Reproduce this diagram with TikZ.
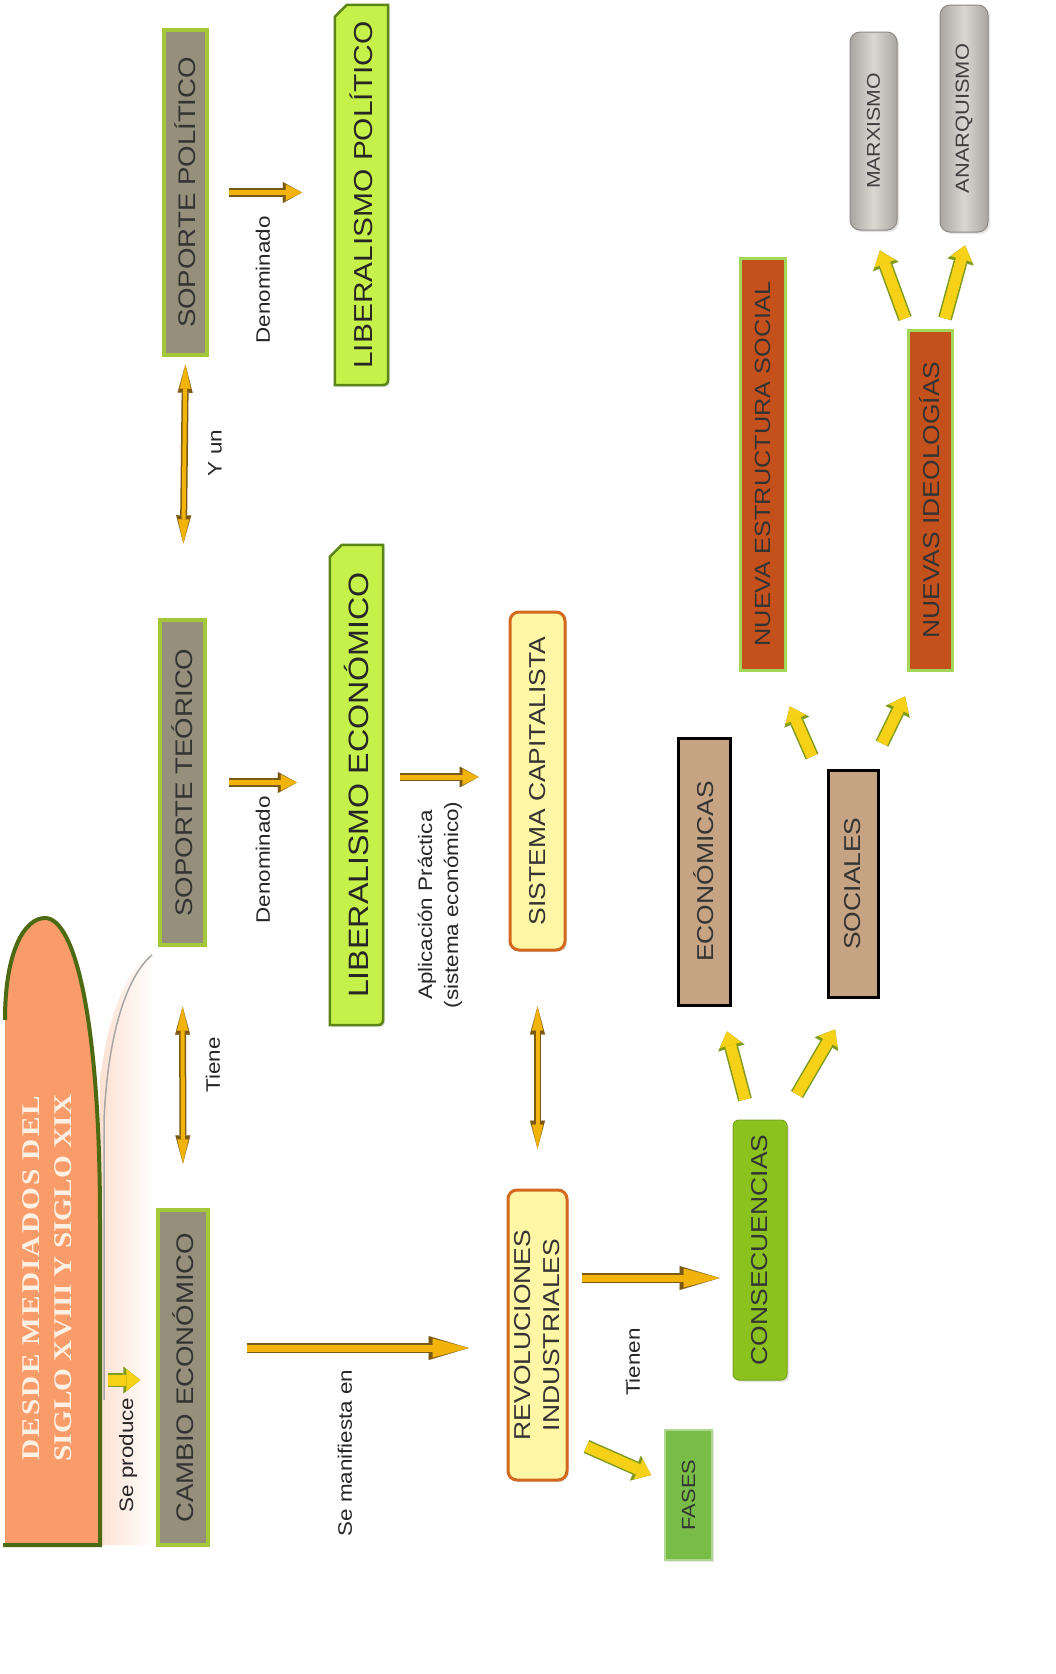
\documentclass[tikz,border=0pt]{standalone}
\usepackage{fontspec}
\setmainfont{Liberation Sans}[FakeStretch=1.15]
\newfontfamily\titlefont{Liberation Serif}[FakeStretch=1.15]
\usetikzlibrary{arrows.meta,shadows}
\definecolor{gold}{HTML}{F2B40A}
\definecolor{goldedge}{HTML}{7A5A12}
\definecolor{yel}{HTML}{F7D117}
\definecolor{yeledge}{HTML}{7E9B1C}
\definecolor{olivefill}{HTML}{958F7B}
\definecolor{limeborder}{HTML}{A5C83A}
\definecolor{libfill}{HTML}{C6F14B}
\definecolor{libedge}{HTML}{5B8419}
\definecolor{creamfill}{HTML}{FFF6A6}
\definecolor{creamedge}{HTML}{D2691F}
\definecolor{consfill}{HTML}{8CC21E}
\definecolor{fasfill}{HTML}{79BD48}
\definecolor{tanfill}{HTML}{C6A483}
\definecolor{rustfill}{HTML}{C4501B}
\definecolor{rustedge}{HTML}{A3D65A}
\definecolor{greyfill}{HTML}{DAD6D2}
\definecolor{greyedge}{HTML}{8E8984}
\definecolor{txt}{HTML}{333333}
\definecolor{titleorange}{HTML}{F99C69}
\definecolor{titleedge}{HTML}{4C6A12}
\definecolor{titletext}{HTML}{FFF0E4}
\begin{document}
\begin{tikzpicture}[x=1pt,y=-1pt,
  vbox/.style={rotate=90, inner sep=0pt, align=center, text=txt},
  softshadow/.style={drop shadow={opacity=0.22, shadow xshift=2pt, shadow yshift=-2pt}},
  olivebox/.style={vbox, fill=olivefill, draw=limeborder, line width=3.5pt, softshadow, font=\fontsize{24}{28}\selectfont},
  libtext/.style={vbox, text=black!85},
  libshape/.style={fill=libfill, draw=libedge, line width=2.5pt, softshadow},
  creambox/.style={vbox, fill=creamfill, draw=creamedge, line width=3pt, rounded corners=9pt, softshadow, font=\fontsize{23}{29}\selectfont},
  consbox/.style={vbox, fill=consfill, draw=consfill!85!black, line width=1pt, rounded corners=6pt, softshadow, font=\fontsize{23}{28}\selectfont},
  fasbox/.style={vbox, fill=fasfill, draw=fasfill!60!white, line width=2pt, softshadow, font=\fontsize{19}{23}\selectfont},
  tanbox/.style={vbox, fill=tanfill, draw=black, line width=3pt, softshadow, font=\fontsize{23}{28}\selectfont},
  rustbox/.style={vbox, fill=rustfill, draw=rustedge, line width=3pt, text=black!80, font=\fontsize{22}{26}\selectfont},
  greybox/.style={vbox, left color=greyedge!75, right color=greyedge!75, middle color=greyfill, draw=greyedge, line width=1pt, rounded corners=10pt, softshadow, text=black!75, font=\fontsize{18.5}{22}\selectfont},
  vlabel/.style={vbox, text=black!85, font=\fontsize{19.5}{26}\selectfont},
  gshort/.style={draw=gold, line width=5pt, -{Triangle[length=16pt,width=16pt,line width=0.1pt]},
    preaction={draw=goldedge, line width=8.5pt, -{Triangle[length=19pt,width=21pt,line width=0.1pt]}}},
  glong/.style={draw=gold, line width=7pt, -{Triangle[length=36pt,width=19pt,line width=0.1pt]},
    preaction={draw=goldedge, line width=10.5pt, -{Triangle[length=40pt,width=24pt,line width=0.1pt]}}},
  gdouble/.style={draw=gold, line width=4pt, {Triangle[length=24pt,width=11pt,line width=0.1pt]}-{Triangle[length=24pt,width=11pt,line width=0.1pt]},
    preaction={draw=goldedge, line width=7pt, {Triangle[length=28pt,width=15pt,line width=0.1pt]}-{Triangle[length=28pt,width=15pt,line width=0.1pt]}}},
  yarrow/.style={draw=yel, line width=11pt, -{Triangle[length=14pt,width=22pt,line width=0.1pt]},
    preaction={draw=yeledge, line width=14pt, -{Triangle[length=17pt,width=27pt,line width=0.1pt]}}}
]
\useasboundingbox (0,0) rectangle (1056,1674);
\fill[white] (0,0) rectangle (1056,1674);

% reflection beside the title
\shade[left color=titleorange!30, right color=white] (100,1545) -- (100,1080) .. controls (110,1000) and (132,965) .. (155,950) -- (155,1545) -- cycle;
\draw[black!35, line width=1.5pt] (104,1400) -- (104,1120) .. controls (108,1030) and (128,975) .. (152,955);

% title shape
\fill[titleorange] (5,1545) -- (5,1020) .. controls (5,950) and (25,918) .. (45,918) .. controls (75,918) and (100,1020) .. (100,1220) -- (100,1545) -- cycle;
\draw[titleedge, line width=4pt] (5,1020) .. controls (5,950) and (25,918) .. (45,918) .. controls (75,918) and (100,1020) .. (100,1220) -- (100,1545) -- (3,1545);
\node[vbox, text=titletext, font=\titlefont\bfseries\fontsize{25.5}{32}\selectfont] (tt) at (47,1278) {{\addfontfeature{LetterSpace=8}DESDE MEDIADOS DEL}\\SIGLO XVIII Y SIGLO XIX};
\coordinate (tedge) at (100,1380);

% olive boxes
\node[olivebox, minimum width=335pt, minimum height=50pt] (ce) at (183,1377.5) {CAMBIO ECONÓMICO};
\node[olivebox, minimum width=325pt, minimum height=45pt] (st) at (182.5,782.5) {SOPORTE TEÓRICO};
\node[olivebox, minimum width=325pt, minimum height=43pt] (sp) at (185.5,192.5) {SOPORTE POLÍTICO};

% liberalism boxes
\node[vbox, minimum width=380pt, minimum height=53pt] (lp) at (361.5,195) {};
\path[libshape] ([yshift=-12pt]lp.north east) -- ([xshift=12pt]lp.north east) -- (lp.south east) -- ([yshift=12pt]lp.south west) .. controls (lp.south west) .. ([xshift=-12pt]lp.south west) -- (lp.north west) -- cycle;
\node[libtext, font=\fontsize{26}{30}\selectfont] at (lp) {LIBERALISMO POLÍTICO};
\node[vbox, minimum width=480pt, minimum height=53pt] (le) at (356.5,785) {};
\path[libshape] ([yshift=-12pt]le.north east) -- ([xshift=12pt]le.north east) -- (le.south east) -- ([yshift=12pt]le.south west) .. controls (le.south west) .. ([xshift=-12pt]le.south west) -- (le.north west) -- cycle;
\node[libtext, font=\fontsize{28}{32}\selectfont] at (le) {LIBERALISMO ECONÓMICO};

% cream boxes
\node[creambox, minimum width=338pt, minimum height=55pt] (sc) at (537.5,781) {SISTEMA CAPITALISTA};
\node[creambox, minimum width=290pt, minimum height=59pt] (ri) at (537.5,1335) {REVOLUCIONES\\INDUSTRIALES};

% consequences
\node[fasbox, minimum width=130pt, minimum height=47pt] (fa) at (688.5,1495) {FASES};
\node[consbox, minimum width=260pt, minimum height=54pt] (co) at (760,1250) {CONSECUENCIAS};
\node[tanbox, minimum width=267pt, minimum height=52pt] (ec) at (704,871.5) {ECONÓMICAS};
\node[tanbox, minimum width=227pt, minimum height=50pt] (so) at (853,883.5) {SOCIALES};
\node[rustbox, minimum width=412pt, minimum height=45pt] (ne) at (762.5,464) {NUEVA ESTRUCTURA SOCIAL};
\node[rustbox, minimum width=340pt, minimum height=44pt, font=\fontsize{23}{27}\selectfont] (ni) at (930,500) {NUEVAS IDEOLOGÍAS};
\node[greybox, minimum width=198pt, minimum height=47pt] (ma) at (873.5,131) {MARXISMO};
\node[greybox, minimum width=227pt, minimum height=48pt, font=\fontsize{19}{22}\selectfont] (an) at (964,118.5) {ANARQUISMO};

% labels
\node[vlabel] (l1) at (128,1455) {Se produce};
\node[vlabel] (l2) at (213,1065) {Tiene};
\node[vlabel] (l3) at (215,453) {Y un};
\node[vlabel] (l4) at (263,860) {Denominado};
\node[vlabel] (l5) at (263,280) {Denominado};
\node[vlabel] (l6) at (440,905) {Aplicación Práctica\\(sistema económico)};
\node[vlabel] (l7) at (345,1453) {Se manifiesta en};
\node[vlabel] (l8) at (633,1362) {Tienen};

% connectors
\draw[yarrow, shorten <=8pt, shorten >=16pt] (tedge) -- ([yshift=-2.5pt]ce.north);
\draw[gdouble, shorten <=45pt, shorten >=60pt] (ce.east) -- (st.west);
\draw[gdouble, shorten <=75pt, shorten >=8pt] (st.east) -- (sp.west);
\draw[gshort, shorten <=22pt, shorten >=33pt] (st.south) -- (st.south -| le.north);
\draw[gshort, shorten <=20pt, shorten >=33pt] (sp.south) -- (sp.south -| lp.north);
\draw[gshort, shorten <=17pt, shorten >=30pt] ([yshift=8pt]le.south) -- ([yshift=4pt]sc.north);
\draw[gdouble, shorten <=55pt, shorten >=40pt] (sc.west) -- (ri.east);
\draw[glong, shorten <=37pt, shorten >=38pt] ([yshift=29.5pt]ce.south) -- ([yshift=-13pt]ri.north);
\draw[glong, shorten <=13pt, shorten >=13pt] ([yshift=57pt]ri.south) -- ([yshift=-28pt]co.north);
\draw[yarrow] ([xshift=18pt,yshift=35pt]ri.south west) -- ([xshift=-13pt,yshift=20pt]fa.north);
\draw[yarrow] ([xshift=-15pt,yshift=20pt]co.east) -- ([xshift=23pt,yshift=-25pt]ec.west);
\draw[yarrow] ([xshift=37pt,yshift=25pt]co.east) -- ([xshift=-18pt,yshift=-31pt]so.west);
\draw[yarrow] ([xshift=-41pt,yshift=12pt]so.east) -- ([xshift=27.5pt,yshift=-35pt]ne.west);
\draw[yarrow] ([xshift=29pt,yshift=25pt]so.east) -- ([xshift=-25pt,yshift=-25pt]ni.west);
\draw[yarrow] ([xshift=-25pt,yshift=10pt]ni.east) -- ([xshift=6.5pt,yshift=-20pt]ma.west);
\draw[yarrow] ([xshift=15pt,yshift=10pt]ni.east) -- ([xshift=1pt,yshift=-13pt]an.west);
\end{tikzpicture}
\end{document}
